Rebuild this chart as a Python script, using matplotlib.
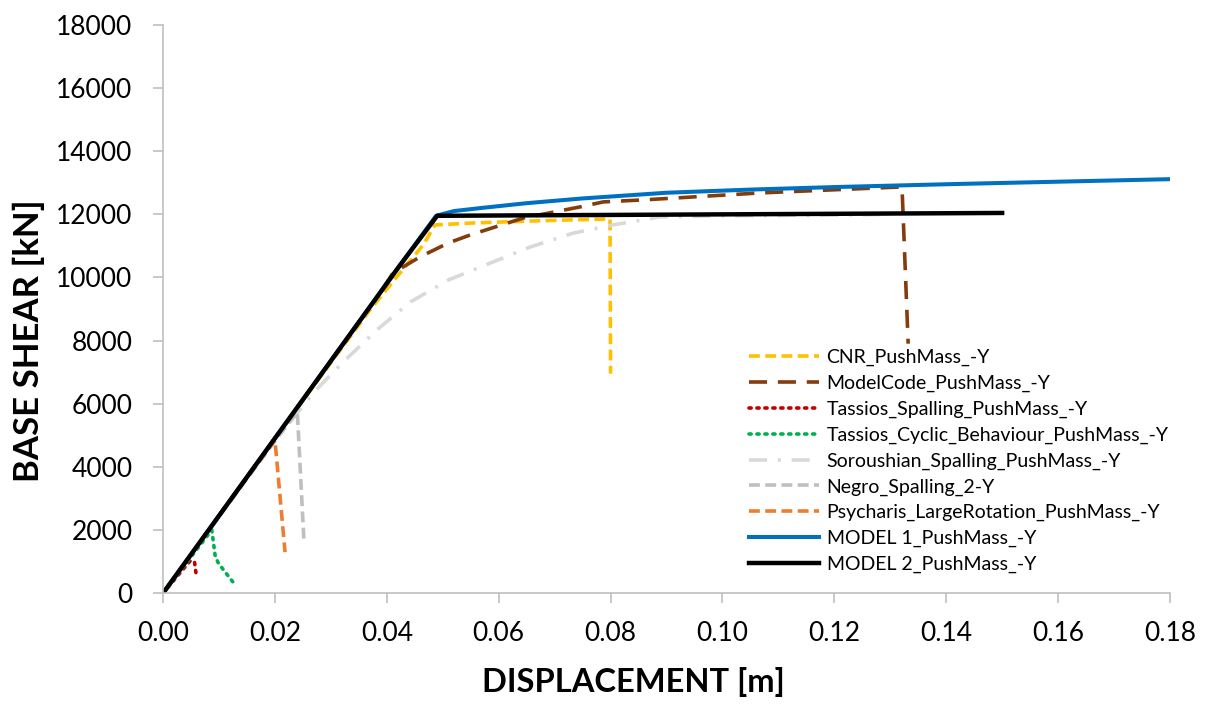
import matplotlib
matplotlib.use("Agg")
import matplotlib.pyplot as plt
from matplotlib.ticker import FormatStrFormatter

# ---- data ----
cnr_x = [0, 0.010, 0.020, 0.030, 0.037, 0.0406, 0.0465, 0.0486, 0.055, 0.065, 0.075, 0.0799, 0.0800]
cnr_y = [0, 2450, 4900, 7300, 8970, 9760, 11030, 11660, 11720, 11780, 11830, 11850, 6950]

mc_x = [0, 0.010, 0.020, 0.030, 0.0388, 0.0411, 0.0459, 0.051, 0.0549, 0.0644, 0.0745, 0.0787, 0.0865, 0.1067, 0.1321, 0.1332]
mc_y = [0, 2450, 4900, 7350, 9506, 10140, 10646, 11090, 11343, 11880, 12230, 12390, 12460, 12674, 12865, 7900]

tsp_x = [0, 0.0048, 0.0056, 0.0060]
tsp_y = [0, 1014, 1014, 485]

tcy_x = [0, 0.0087, 0.0089, 0.0093, 0.0098, 0.0107, 0.0125]
tcy_y = [0, 2000, 1740, 1200, 980, 760, 350]

sor_x = [0, 0.010, 0.020, 0.024, 0.0268, 0.0322, 0.0382, 0.0442, 0.051, 0.0656, 0.0733, 0.0804, 0.0888, 0.100, 0.1246, 0.130]
sor_y = [0, 2450, 4900, 5700, 6337, 7320, 8333, 9220, 9918, 10960, 11400, 11660, 11915, 11950, 11980, 12000]

neg_x = [0, 0.010, 0.020, 0.0240, 0.0252]
neg_y = [0, 2420, 4820, 5735, 1584]

psy_x = [0, 0.010, 0.020, 0.0218]
psy_y = [0, 2450, 4850, 1300]

m1_x = [0, 0.042, 0.0488, 0.052, 0.057, 0.065, 0.075, 0.090, 0.105, 0.120, 0.1425, 0.160, 0.180]
m1_y = [0, 10300, 11950, 12100, 12200, 12350, 12500, 12680, 12780, 12860, 12960, 13030, 13110]

m2_x = [0, 0.042, 0.0490, 0.150]
m2_y = [0, 10300, 11950, 12040]

labels = ["CNR_PushMass_-Y", "ModelCode_PushMass_-Y", "Tassios_Spalling_PushMass_-Y",
          "Tassios_Cyclic_Behaviour_PushMass_-Y", "Soroushian_Spalling_PushMass_-Y",
          "Negro_Spalling_2-Y", "Psycharis_LargeRotation_PushMass_-Y",
          "MODEL 1_PushMass_-Y", "MODEL 2_PushMass_-Y"]
x_ticks = [0.00, 0.02, 0.04, 0.06, 0.08, 0.10, 0.12, 0.14, 0.16, 0.18]
y_ticks = [0, 2000, 4000, 6000, 8000, 10000, 12000, 14000, 16000, 18000]

plt.rcParams['font.family'] = ['Lato', 'DejaVu Sans']

fig = plt.figure(figsize=(12.08, 7.07), dpi=100)
ax = fig.add_axes([0.135, 0.161, 0.8335, 0.804])

lw = 2.6
ax.plot(cnr_x, cnr_y, color='#FFC000', lw=lw, dashes=(3, 1.5), label=labels[0])
ax.plot(mc_x, mc_y, color='#843C0C', lw=lw, dashes=(5, 3), label=labels[1])
ax.plot(tsp_x, tsp_y, color='#C00000', lw=lw, dashes=(0.6, 1.6), dash_capstyle='round', label=labels[2])
ax.plot(tcy_x, tcy_y, color='#00B050', lw=lw, dashes=(0.6, 1.6), dash_capstyle='round', label=labels[3])
ax.plot(sor_x, sor_y, color='#D9D9D9', lw=lw, dashes=(5, 3, 0.8, 3), label=labels[4])
ax.plot(neg_x, neg_y, color='#BFBFBF', lw=lw, dashes=(3, 1.5), label=labels[5])
ax.plot(psy_x, psy_y, color='#ED7D31', lw=lw, dashes=(3, 1.5), label=labels[6])
ax.plot(m1_x, m1_y, color='#0070C0', lw=2.9, label=labels[7])
ax.plot(m2_x, m2_y, color='#000000', lw=3.2, label=labels[8])

ax.set_xlim(0, 0.18)
ax.set_ylim(0, 18000)
ax.set_xticks(x_ticks)
ax.set_yticks(y_ticks)
ax.xaxis.set_major_formatter(FormatStrFormatter('%.2f'))
ax.tick_params(axis='both', labelsize=19, color='#BFBFBF', length=7, width=1.2, direction='out')
ax.tick_params(axis='x', pad=13)
ax.tick_params(axis='y', pad=15)

for s in ['top', 'right']:
    ax.spines[s].set_visible(False)
for s in ['left', 'bottom']:
    ax.spines[s].set_color('#BFBFBF')
    ax.spines[s].set_linewidth(1.2)

ax.set_xlabel('DISPLACEMENT [m]', fontsize=23.5, fontweight='bold')
ax.set_ylabel('BASE SHEAR [kN]', fontsize=25, fontweight='bold')
ax.xaxis.set_label_coords(0.467, -0.157)
ax.yaxis.set_label_coords(-0.133, 0.445)
ax.xaxis.label.set_va('center')
ax.yaxis.label.set_va('center')

leg = ax.legend(loc='upper left', bbox_to_anchor=(0.574, 0.443), frameon=False,
                fontsize=14, handlelength=3.6, labelspacing=0.44, handletextpad=0.4,
                borderaxespad=0)

fig.savefig('out.png', dpi=100)
